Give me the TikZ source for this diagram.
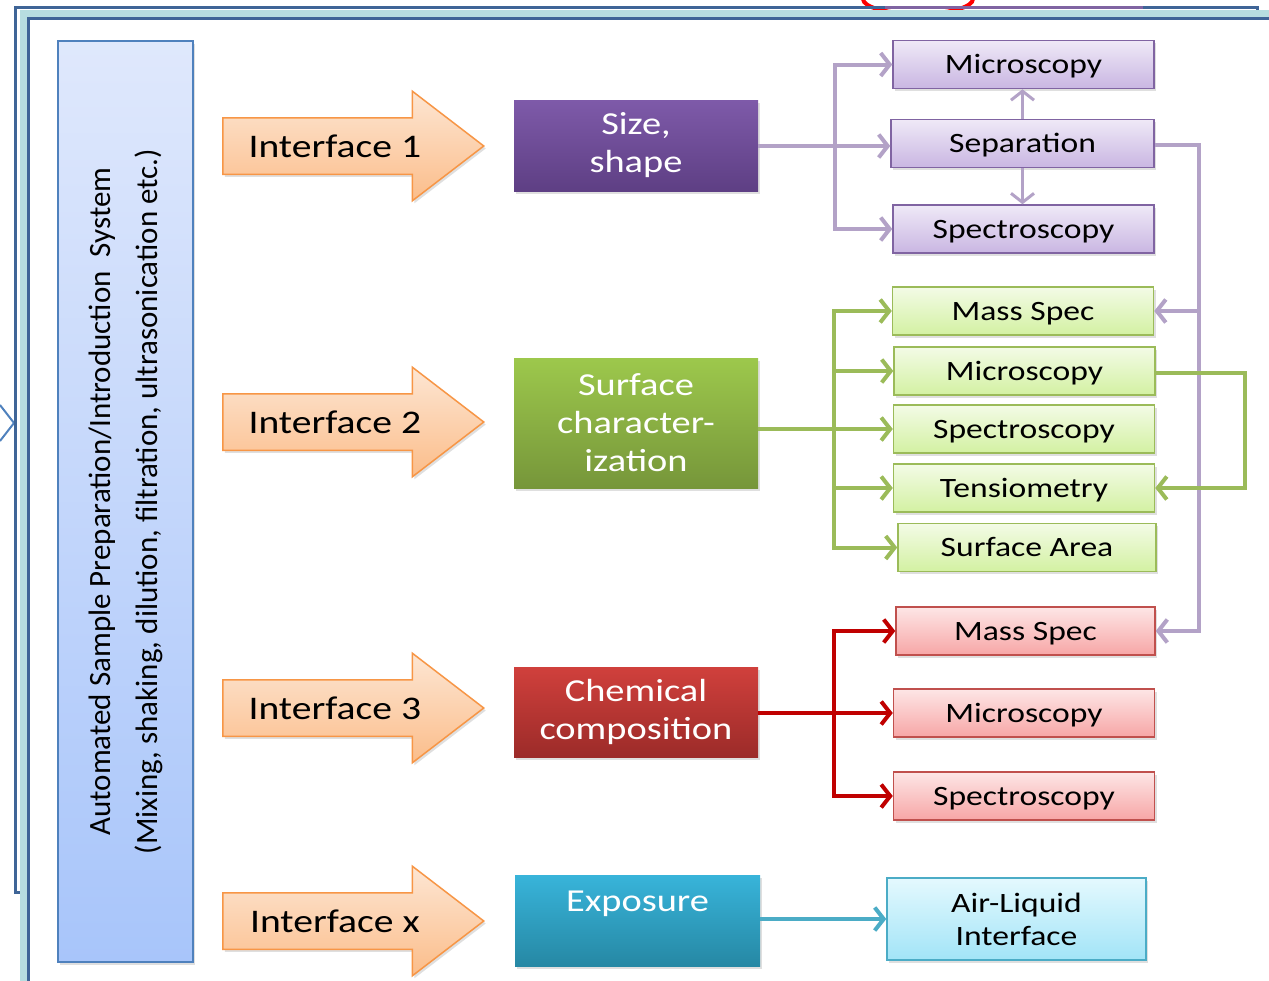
\documentclass[tikz,border=0pt]{standalone}
\usepackage{fontspec}
\setmainfont{Carlito}[FakeStretch=1.2]
\newfontfamily\sidefont{Carlito}
\usetikzlibrary{shapes.arrows,arrows.meta,shadows}
\definecolor{frameblue}{HTML}{3F6597}
\definecolor{framecyan}{HTML}{B7DEE0}
\definecolor{sysline}{HTML}{4F81BD}
\definecolor{systop}{HTML}{DFE8FC}
\definecolor{sysbot}{HTML}{A8C5FA}
\definecolor{ifline}{HTML}{F79646}
\definecolor{iftop}{HTML}{FDE6D3}
\definecolor{ifbot}{HTML}{FBBD8A}
\definecolor{plight}{HTML}{8064A2}
\definecolor{glight}{HTML}{9BBB59}
\definecolor{rlight}{HTML}{C0504D}
\definecolor{clight}{HTML}{4BACC6}
\definecolor{ptop}{HTML}{EFE9F7}
\definecolor{pbot}{HTML}{C9B6E2}
\definecolor{gtop}{HTML}{F3FBE6}
\definecolor{gbot}{HTML}{D3F1A2}
\definecolor{rtop}{HTML}{FDE6E6}
\definecolor{rbot}{HTML}{F7A6A6}
\definecolor{ctop}{HTML}{E4F9FE}
\definecolor{cbot}{HTML}{A2E4F7}
\definecolor{pdtop}{HTML}{7E5AA9}
\definecolor{pdbot}{HTML}{5E3F84}
\definecolor{gdtop}{HTML}{9DC84C}
\definecolor{gdbot}{HTML}{76963A}
\definecolor{rdtop}{HTML}{D0403C}
\definecolor{rdbot}{HTML}{9C2B29}
\definecolor{cdtop}{HTML}{38B4DA}
\definecolor{cdbot}{HTML}{2688A4}
\definecolor{plinkc}{HTML}{B3A2C7}
\definecolor{rlinkc}{HTML}{C00000}
\begin{document}
\begin{tikzpicture}[x=1pt,y=-1pt,
    shade box/.style={drop shadow={shadow xshift=2pt,shadow yshift=-2.5pt,opacity=.25}},
    main box/.style={shade box,minimum width=244pt,inner sep=0pt,align=center,text=white,font=\fontsize{32}{38}\selectfont},
    small box/.style={shade box,draw,line width=1.5pt,minimum width=261pt,minimum height=48pt,inner sep=0pt,font=\fontsize{28}{33}\selectfont},
    one line/.style={text height=18pt,text depth=0pt},
    p box/.style={small box,one line,draw=plight,top color=ptop,bottom color=pbot},
    g box/.style={small box,one line,draw=glight,top color=gtop,bottom color=gbot},
    r box/.style={small box,one line,draw=rlight,top color=rtop,bottom color=rbot},
    c box/.style={small box,draw=clight,top color=ctop,bottom color=cbot},
    iface/.style={shade box,single arrow,draw=ifline,line width=1.5pt,top color=iftop,bottom color=ifbot,
        single arrow head extend=26.5pt,single arrow tip angle=75,minimum height=261pt,
        inner xsep=10pt,inner ysep=16.5pt,text height=22pt,text depth=0pt,anchor=tail,font=\fontsize{33}{38}\selectfont},
    link/.style={line width=4pt,line join=miter,-{Straight Barb[length=9pt,width=23pt]}},
    p link/.style={link,plinkc},
    g link/.style={link,glight},
    r link/.style={link,rlinkc},
    c link/.style={link,clight}]
    \useasboundingbox (0,0) rectangle (1269,980);
    \clip (0,0) rectangle (1269,980);
    \draw[red,line width=4pt] (918,-1) ellipse [x radius=55, y radius=15];
    \draw[sysline,line width=2pt] (0,405) -- (14,423) -- (0,441);
    \draw[frameblue,line width=3pt] (15,7.5) rectangle (1257,892);
    \draw[framecyan,line width=7pt,fill=white] (23.5,13) rectangle (1330,1050);
    \draw[frameblue,line width=3pt] (28.5,18) rectangle (1330,1050);
    \draw[plight,line width=3pt] (885,7.5) -- (1143,7.5);

    \node[shade box,draw=sysline,line width=2pt,top color=systop,bottom color=sysbot,minimum width=135pt,minimum height=921pt] at (125.5, 501.5) (sys) {};
    \node[rotate=90,align=center,font=\sidefont\fontsize{31}{47}\selectfont] at (sys.center) (syst) {Automated Sample Preparation/Introduction\ \ System\\(Mixing, shaking, dilution, filtration, ultrasonication etc.)};

    \node[iface] at (222, 146) (if1) {Interface 1};
    \node[iface] at (222, 422) (if2) {Interface 2};
    \node[iface] at (222, 708) (if3) {Interface 3};
    \node[iface] at (222, 921) (ifx) {Interface x};

    \node[main box,minimum height=91pt,top color=pdtop,bottom color=pdbot] at (636, 145.5) (size) {Size,\\shape};
    \node[main box,minimum height=130pt,top color=gdtop,bottom color=gdbot] at (636, 423) (surf) {Surface\\character-\\ization};
    \node[main box,minimum height=90pt,top color=rdtop,bottom color=rdbot] at (636, 712) (chem) {Chemical\\composition};
    \node[main box,minimum width=245pt,minimum height=91pt,top color=cdtop,bottom color=cdbot] at (637.5, 920.5) (expo) {Exposure\\\mbox{}};

    \node[p box] at (1023.5, 64.5) (pmic) {Microscopy};
    \node[p box,minimum width=263pt] at (1022.5, 143.5) (psep) {Separation};
    \node[p box] at (1023.5, 229) (pspe) {Spectroscopy};

    \node[g box] at (1023, 311) (gms) {Mass Spec};
    \node[g box] at (1024.5, 371) (gmic) {Microscopy};
    \node[g box] at (1024, 429) (gspe) {Spectroscopy};
    \node[g box] at (1024, 488) (gten) {Tensiometry};
    \node[g box,minimum width=258pt] at (1027, 547.5) (gsa) {Surface Area};

    \node[r box,minimum width=259pt] at (1025.5, 631) (rms) {Mass Spec};
    \node[r box] at (1024, 713) (rmic) {Microscopy};
    \node[r box] at (1024, 796) (rspe) {Spectroscopy};

    \node[c box,minimum width=259pt,minimum height=82pt,align=center] at (1016.5, 919) (ali) {Air-Liquid\\Interface};

    \coordinate (pt) at (835, 146);
    \coordinate (pr) at (1199, 145);
    \coordinate (gt) at (834, 429);
    \coordinate (gr) at (1245, 373);
    \coordinate (rt) at (834, 713);

    \draw[p link] (size.east |- pt) -- (pt -| psep.west);
    \draw[p link] (pt) |- (pmic);
    \draw[p link] (pt) |- (pspe);
    \draw[p link,line width=3pt] (psep.north) -- (psep.north |- pmic.south);
    \draw[p link,line width=3pt] (psep.south) -- (psep.south |- pspe.north);
    \draw[p link] (psep.east |- pr) -- (pr) |- (rms);
    \draw[p link] (pr |- gms) -- (gms);

    \draw[g link] (surf.east |- gt) -- (gspe);
    \draw[g link] (gt) |- (gms);
    \draw[g link] (gt) |- (gmic);
    \draw[g link] (gt) |- (gten);
    \draw[g link] (gt) |- (gsa);
    \draw[g link] (gmic.east |- gr) -- (gr) |- (gten);

    \draw[r link] (chem.east |- rt) -- (rmic);
    \draw[r link] (rt) |- (rms);
    \draw[r link] (rt) |- (rspe);

    \draw[c link] (expo.east |- ali) -- (ali);
\end{tikzpicture}
\end{document}
